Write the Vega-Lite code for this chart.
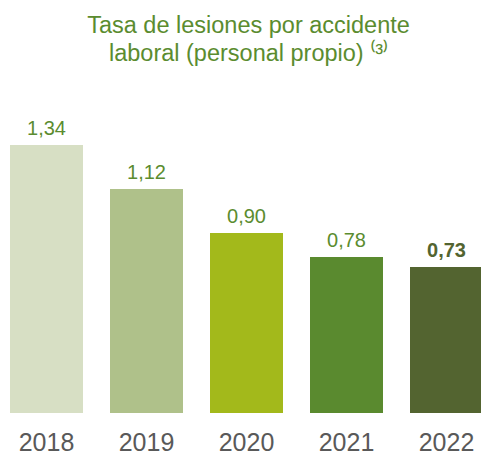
{
  "$schema": "https://vega.github.io/schema/vega-lite/v6.json",
  "width": 481,
  "height": 333,
  "autosize": {"type": "none"},
  "padding": {"top": 80, "left": 0, "right": 0, "bottom": 41},
  "background": "white",
  "config": {
    "view": {"stroke": null},
    "font": "Arial, Liberation Sans, sans-serif",
    "locale": {"number": {"decimal": ",", "thousands": ".", "grouping": [3], "currency": ["", " €"]}}
  },
  "title": {
    "text": ["Tasa de lesiones por accidente", "laboral (personal propio) ⁽³⁾"],
    "font": "Arial, Liberation Sans, sans-serif",
    "fontSize": 23.5,
    "fontWeight": "normal",
    "lineHeight": 28,
    "color": "#5b8c2f",
    "anchor": "middle",
    "frame": "group",
    "dx": 8,
    "offset": 15
  },
  "data": {
    "values": [
      {"year": "2018", "value": 1.34},
      {"year": "2019", "value": 1.12},
      {"year": "2020", "value": 0.90},
      {"year": "2021", "value": 0.78},
      {"year": "2022", "value": 0.73}
    ]
  },
  "encoding": {
    "x": {
      "field": "year",
      "type": "nominal",
      "sort": null,
      "scale": {"domain": ["2018", "2019", "2020", "2021", "2022"], "range": [-3.5, 496.5], "paddingInner": 0.27, "paddingOuter": 0.135},
      "axis": {
        "title": null,
        "ticks": false,
        "domain": false,
        "labelAngle": 0,
        "labelFont": "Arial, Liberation Sans, sans-serif",
        "labelFontSize": 25,
        "labelColor": "#595959",
        "labelPadding": 17
      }
    },
    "y": {
      "field": "value",
      "type": "quantitative",
      "scale": {"domain": [0, 1.665], "nice": false, "zero": true},
      "axis": null
    }
  },
  "layer": [
    {
      "mark": {"type": "bar"},
      "encoding": {
        "color": {
          "field": "year",
          "type": "nominal",
          "scale": {
            "domain": ["2018", "2019", "2020", "2021", "2022"],
            "range": ["#d7dfc4", "#afc18a", "#a3b91b", "#5a8a2f", "#536430"]
          },
          "legend": null
        }
      }
    },
    {
      "transform": [{"filter": "datum.year != '2022'"}],
      "mark": {"type": "text", "baseline": "alphabetic", "dy": -10, "fontSize": 20, "color": "#5b8c2f", "font": "Arial, Liberation Sans, sans-serif"},
      "encoding": {
        "text": {"field": "value", "type": "quantitative", "format": ".2f"}
      }
    },
    {
      "transform": [{"filter": "datum.year == '2022'"}],
      "mark": {"type": "text", "baseline": "alphabetic", "dy": -10, "fontSize": 20, "fontWeight": "bold", "color": "#536430", "font": "Arial, Liberation Sans, sans-serif"},
      "encoding": {
        "text": {"field": "value", "type": "quantitative", "format": ".2f"}
      }
    }
  ]
}
